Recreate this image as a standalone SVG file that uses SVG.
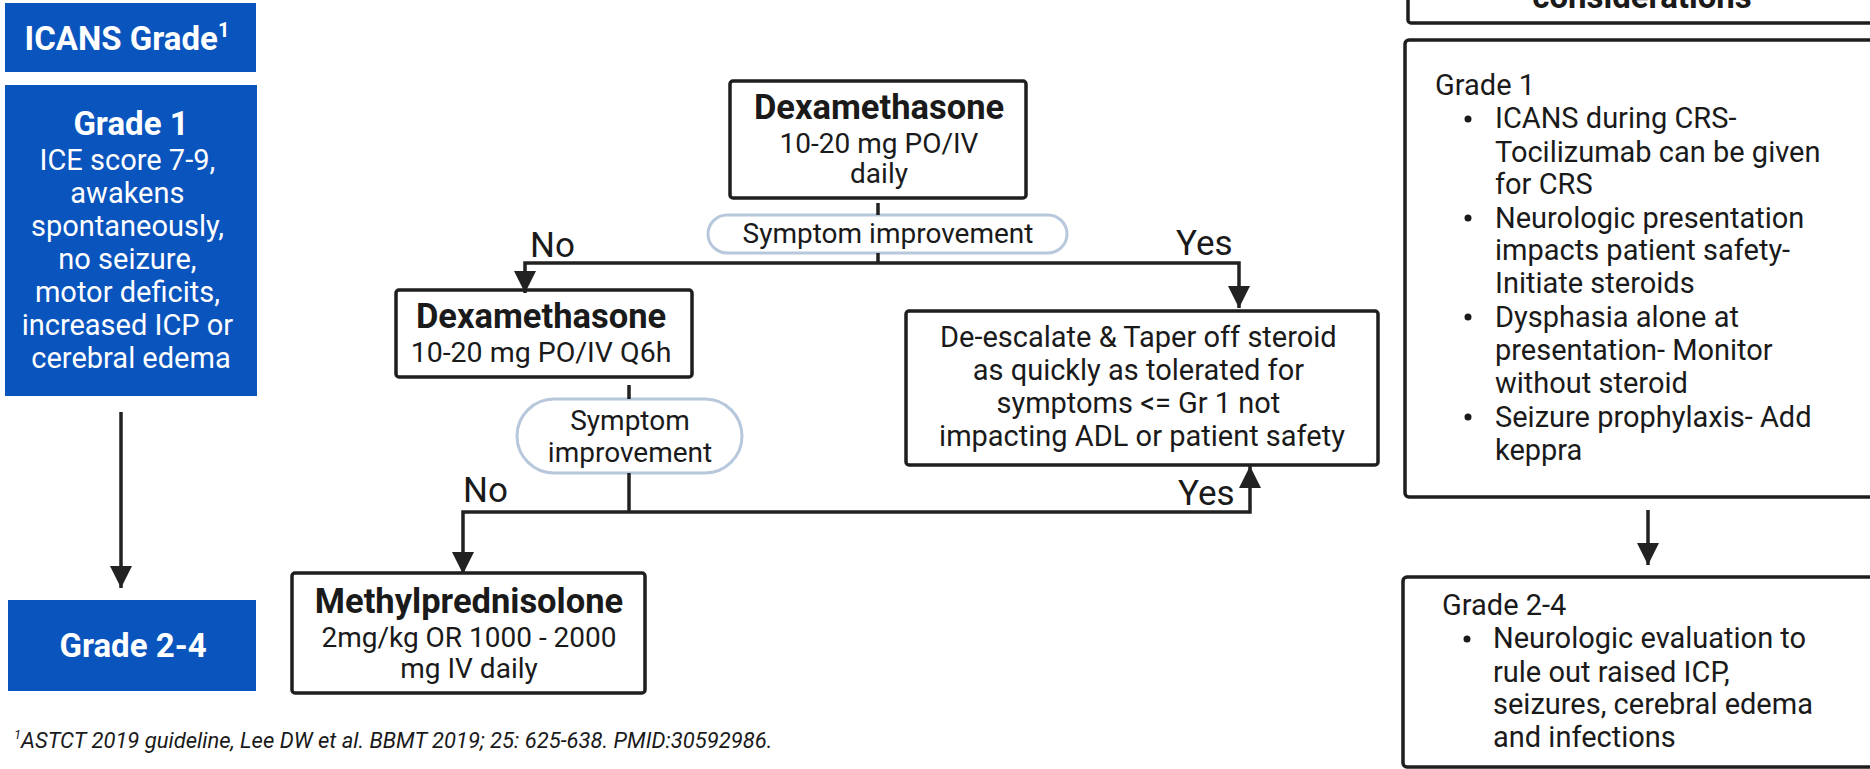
<svg xmlns="http://www.w3.org/2000/svg" width="1870" height="769" viewBox="0 0 1870 769">
<style>
text{font-family:Roboto,"Liberation Sans",sans-serif;fill:#1a1a1a}
.blue{fill:#0a54be}
.wt{fill:#fff}
.box{fill:#fff;stroke:#1e1e1e;stroke-width:3.5}
.pill{fill:#fff;stroke:#b8c8dc;stroke-width:3}
.b{font-weight:700}
.c{text-anchor:middle}
.t28{font-size:28px}
.t29{font-size:29px}
.t33{font-size:33px}
.t34{font-size:34.5px}
.t35{font-size:35px}
.ln{fill:none;stroke:#222;stroke-width:3.5}
</style>
<defs>
<marker id="ah" markerUnits="userSpaceOnUse" markerWidth="22" markerHeight="22" viewBox="0 0 20 20" refX="20" refY="10" orient="auto">
<path d="M0,0 L20,10 L0,20 Z" fill="#222"/>
</marker>
</defs>
<rect width="1870" height="769" fill="#fff"/>

<g id="icans-grade">
<rect class="blue" x="5" y="3" width="251" height="69"/>
<text class="wt b t33 c" x="127" y="50">ICANS Grade<tspan font-size="20" dy="-13">1</tspan></text>
</g>
<g id="grade1-left">
<rect class="blue" x="5" y="85" width="252" height="311"/>
<text class="wt b t33 c" x="131" y="135">Grade 1</text>
<text class="wt t29 c" x="131">
<tspan x="131" y="170">ICE score 7-9,</tspan>
<tspan x="131" y="203">awakens</tspan>
<tspan x="131" y="236">spontaneously,</tspan>
<tspan x="131" y="269">no seizure,</tspan>
<tspan x="131" y="302">motor deficits,</tspan>
<tspan x="131" y="335">increased ICP or</tspan>
<tspan x="131" y="368">cerebral edema</tspan>
</text>
</g>
<g id="grade24-left">
<rect class="blue" x="8" y="600" width="248" height="91"/>
<text class="wt b t33 c" x="133" y="657">Grade 2-4</text>
</g>

<g id="dex-daily">
<rect class="box" x="730" y="81" width="296" height="117" rx="3"/>
<text class="b t34 c" x="879" y="119">Dexamethasone</text>
<text class="t28 c" x="879" y="153">10-20 mg PO/IV</text>
<text class="t28 c" x="879" y="183">daily</text>
</g>
<g id="symptom1">
<rect class="pill" x="708" y="215" width="359" height="38" rx="19"/>
<text class="t28 c" x="888" y="243">Symptom improvement</text>
</g>
<g id="dex-q6h">
<rect class="box" x="396" y="290" width="296" height="87" rx="3"/>
<text class="b t34 c" x="541" y="328">Dexamethasone</text>
<text class="c" font-size="28.5" x="541" y="362">10-20 mg PO/IV Q6h</text>
</g>
<g id="deescalate">
<rect class="box" x="906" y="311" width="472" height="154" rx="3"/>
<text class="t29 c">
<tspan x="1142" y="347">De-escalate &amp; Taper off steroid</tspan>
<tspan x="1142" y="380">as quickly as tolerated for</tspan>
<tspan x="1142" y="413">symptoms &lt;= Gr 1 not</tspan>
<tspan x="1142" y="446">impacting ADL or patient safety</tspan>
</text>
</g>
<g id="symptom2">
<rect class="pill" x="517" y="399" width="225" height="74" rx="37"/>
<text class="t28 c" x="630" y="430">Symptom</text>
<text class="t28 c" x="630" y="462">improvement</text>
</g>
<g id="methylpred">
<rect class="box" x="292" y="573" width="353" height="120" rx="3"/>
<text class="b t34 c" x="469" y="613">Methylprednisolone</text>
<text class="t28 c" x="469" y="647">2mg/kg OR 1000 - 2000</text>
<text class="t28 c" x="469" y="678">mg IV daily</text>
</g>

<g id="considerations">
<rect class="box" x="1408" y="-60" width="500" height="83" rx="3"/>
<text class="b t33 c" x="1642" y="8">considerations</text>
</g>
<g id="grade1-right">
<rect class="box" x="1405" y="40" width="500" height="457" rx="4"/>
<text class="t29" x="1435" y="95">Grade 1</text>
<circle cx="1468" cy="119" r="3.5" fill="#1a1a1a"/>
<circle cx="1468" cy="218" r="3.5" fill="#1a1a1a"/>
<circle cx="1468" cy="317" r="3.5" fill="#1a1a1a"/>
<circle cx="1468" cy="417" r="3.5" fill="#1a1a1a"/>
<text class="t29">
<tspan x="1495" y="128">ICANS  during CRS-</tspan>
<tspan x="1495" y="162">Tocilizumab can be given</tspan>
<tspan x="1495" y="194">for CRS</tspan>
<tspan x="1495" y="228">Neurologic presentation</tspan>
<tspan x="1495" y="260">impacts patient safety-</tspan>
<tspan x="1495" y="293">Initiate steroids</tspan>
<tspan x="1495" y="327">Dysphasia alone at</tspan>
<tspan x="1495" y="360">presentation- Monitor</tspan>
<tspan x="1495" y="393">without steroid</tspan>
<tspan x="1495" y="427">Seizure prophylaxis- Add</tspan>
<tspan x="1495" y="460">keppra</tspan>
</text>
</g>
<g id="grade24-right">
<rect class="box" x="1403" y="577" width="500" height="190" rx="4"/>
<text class="t29" x="1442" y="615">Grade 2-4</text>
<circle cx="1467" cy="639" r="3.5" fill="#1a1a1a"/>
<text class="t29">
<tspan x="1493" y="648">Neurologic evaluation to</tspan>
<tspan x="1493" y="682">rule out raised ICP,</tspan>
<tspan x="1493" y="714">seizures, cerebral edema</tspan>
<tspan x="1493" y="747">and infections</tspan>
</text>
</g>

<g id="connectors">
<line class="ln" x1="121" y1="412" x2="121" y2="588" marker-end="url(#ah)"/>
<line class="ln" x1="1648" y1="510" x2="1648" y2="565" marker-end="url(#ah)"/>
<line class="ln" x1="878" y1="203" x2="878" y2="215"/>
<line class="ln" x1="878" y1="253" x2="878" y2="263"/>
<polyline class="ln" points="878,263 525,263 525,293" marker-end="url(#ah)"/>
<polyline class="ln" points="878,263 1239,263 1239,308" marker-end="url(#ah)"/>
<line class="ln" x1="629" y1="385" x2="629" y2="399"/>
<line class="ln" x1="629" y1="473" x2="629" y2="512"/>
<polyline class="ln" points="629,512 463,512 463,574" marker-end="url(#ah)"/>
<polyline class="ln" points="629,512 1250,512 1250,466" marker-end="url(#ah)"/>
<text class="t35" x="530" y="257">No</text>
<text class="t35" x="1176" y="255">Yes</text>
<text class="t35" x="463" y="502">No</text>
<text class="t35" x="1178" y="505">Yes</text>
</g>

<text id="footnote" x="14" y="748" font-size="22" font-style="italic" fill="#1a1a1a"><tspan font-size="13" dy="-9">1</tspan><tspan dy="9">ASTCT 2019 guideline, Lee DW et al. BBMT 2019; 25: 625-638. PMID:30592986.</tspan></text>
</svg>
